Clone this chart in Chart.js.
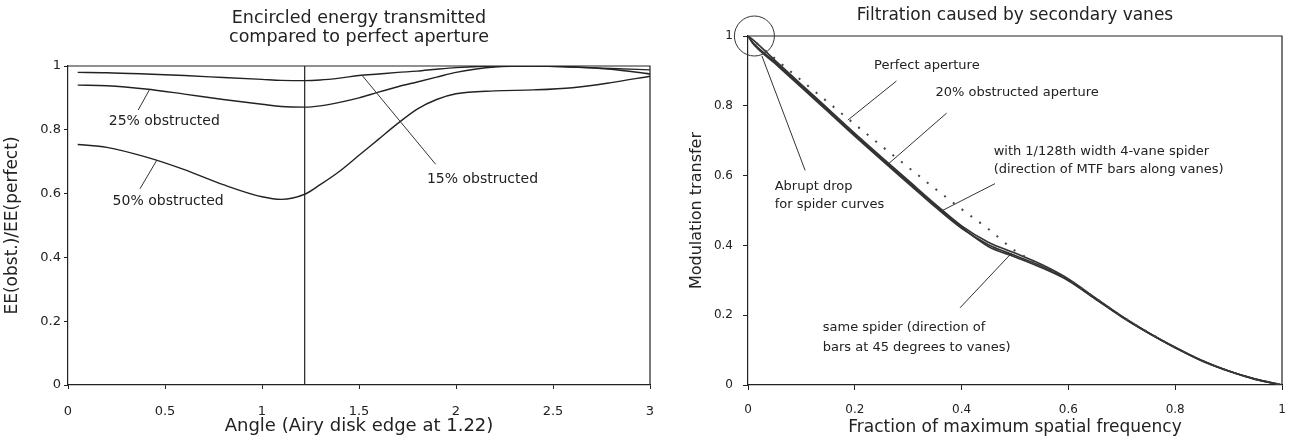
<!DOCTYPE html>
<html lang="en">
<head>
<meta charset="UTF-8">
<title>Encircled energy and MTF with secondary vanes</title>
<script src="https://cdn.jsdelivr.net/npm/chart.js"></script>
<style>
  body { margin: 0; background: #fff; }
  .box { position: absolute; top: 0; height: 442px; }
  #left { left: 0; width: 660px; }
  #right { left: 650px; width: 644px; }
</style>
</head>
<body>
<div class="box" id="left"><canvas id="eeChart"></canvas></div>
<div class="box" id="right"><canvas id="mtfChart"></canvas></div>
<script>
// ---- left panel: encircled energy ratio vs angle ----
const angle   = [0.05, 0.2, 0.4, 0.6, 0.8, 1.0, 1.1, 1.22, 1.3, 1.4, 1.5, 1.6, 1.7, 1.8, 1.9, 2.0, 2.2, 2.4, 2.6, 2.8, 3.0];
const obst15  = [0.98, 0.979, 0.975, 0.97, 0.964, 0.958, 0.955, 0.954, 0.956, 0.962, 0.97, 0.975, 0.98, 0.984, 0.99, 0.995, 1.0, 1.0, 0.997, 0.992, 0.988];
const obst25  = [0.94, 0.938, 0.928, 0.912, 0.895, 0.88, 0.873, 0.871, 0.875, 0.886, 0.9, 0.918, 0.935, 0.95, 0.965, 0.98, 0.997, 1.0, 0.997, 0.99, 0.975];
const obst50  = [0.754, 0.745, 0.715, 0.675, 0.628, 0.59, 0.582, 0.598, 0.628, 0.67, 0.72, 0.77, 0.82, 0.865, 0.895, 0.913, 0.922, 0.925, 0.932, 0.948, 0.968];
const airyEdge = 1.22;
const eeTicks = { xMax: 3, xStep: 0.5, yMax: 1, yStep: 0.2 };

// ---- right panel: MTF ----
const freq        = [0, 0.01, 0.05, 0.1, 0.15, 0.2, 0.25, 0.3, 0.35, 0.4, 0.45, 0.5, 0.55, 0.6, 0.65, 0.7, 0.75, 0.8, 0.85, 0.9, 0.95, 1.0];
const perfect     = [1, 0.987, 0.936, 0.873, 0.81, 0.747, 0.685, 0.624, 0.563, 0.504, 0.447, 0.385, 0.343, 0.302, 0.25, 0.197, 0.15, 0.108, 0.07, 0.04, 0.017, 0];
const obst20      = [1, 0.988, 0.931, 0.861, 0.791, 0.721, 0.653, 0.586, 0.519, 0.456, 0.409, 0.378, 0.345, 0.304, 0.25, 0.197, 0.15, 0.108, 0.07, 0.04, 0.017, 0];
const spiderAlong = [1, 0.977, 0.922, 0.853, 0.783, 0.713, 0.645, 0.578, 0.511, 0.449, 0.402, 0.371, 0.34, 0.301, 0.248, 0.196, 0.149, 0.107, 0.07, 0.04, 0.017, 0];
const spider45    = [1, 0.98, 0.926, 0.857, 0.787, 0.717, 0.649, 0.582, 0.515, 0.452, 0.397, 0.367, 0.336, 0.299, 0.247, 0.195, 0.149, 0.107, 0.069, 0.04, 0.016, 0];
const mtfTicks = { xMax: 1, xStep: 0.2, yMax: 1, yStep: 0.2 };

const FONT = 'DejaVu Sans';
const INK = '#222';

const pts = (xs, ys) => xs.map((x, i) => ({ x: x, y: ys[i] }));

// labels and leader lines, in data units
const eeNotes = {
  title: ['Encircled energy transmitted', 'compared to perfect aperture'],
  titleSize: 17.5,
  titleY: [-48, -29],
  textSize: 14,
  texts: [
    { t: '25% obstructed', x: 0.21, y: 0.826 },
    { t: '50% obstructed', x: 0.23, y: 0.576 },
    { t: '15% obstructed', x: 1.85, y: 0.645 }
  ],
  lines: [
    [0.419, 0.925, 0.362, 0.862],
    [0.457, 0.704, 0.371, 0.615],
    [1.514, 0.972, 1.895, 0.692]
  ]
};
const mtfNotes = {
  title: ['Filtration caused by secondary vanes'],
  titleSize: 17,
  titleY: [-20],
  textSize: 13,
  texts: [
    { t: 'Perfect aperture', x: 0.236, y: 0.914 },
    { t: '20% obstructed aperture', x: 0.351, y: 0.838 },
    { t: 'with 1/128th width 4-vane spider', x: 0.46, y: 0.67 },
    { t: '(direction of MTF bars along vanes)', x: 0.46, y: 0.617 },
    { t: 'Abrupt drop', x: 0.05, y: 0.569 },
    { t: 'for spider curves', x: 0.05, y: 0.516 },
    { t: 'same spider (direction of', x: 0.14, y: 0.164 },
    { t: 'bars at 45 degrees to vanes)', x: 0.14, y: 0.107 }
  ],
  lines: [
    [0.278, 0.871, 0.187, 0.759],
    [0.372, 0.779, 0.261, 0.631],
    [0.4625, 0.577, 0.364, 0.5],
    [0.107, 0.615, 0.026, 0.943],
    [0.397, 0.221, 0.493, 0.377]
  ],
  circle: { x: 0.012, y: 1.0, r: 20 }
};

const tickText = v => String(Math.round(v * 100) / 100);

function notesPlugin(notes) {
  return {
    id: 'notes',
    afterDatasetsDraw(chart) {
      const { ctx, chartArea: a, scales: { x, y } } = chart;
      ctx.save();
      // box around the plot
      ctx.strokeStyle = INK;
      ctx.lineWidth = 1.2;
      ctx.beginPath();
      ctx.moveTo(a.left, a.top);
      ctx.lineTo(a.right, a.top);
      ctx.lineTo(a.right, a.bottom);
      ctx.stroke();

      ctx.fillStyle = INK;
      ctx.textAlign = 'center';
      ctx.textBaseline = 'middle';
      ctx.font = notes.titleSize + 'px "' + FONT + '"';
      const cx = (a.left + a.right) / 2;
      notes.title.forEach((t, i) => ctx.fillText(t, cx, a.top + notes.titleY[i]));

      ctx.textAlign = 'left';
      ctx.font = notes.textSize + 'px "' + FONT + '"';
      notes.texts.forEach(n => ctx.fillText(n.t, x.getPixelForValue(n.x), y.getPixelForValue(n.y)));

      ctx.lineWidth = 1;
      ctx.strokeStyle = '#333';
      notes.lines.forEach(l => {
        ctx.beginPath();
        ctx.moveTo(x.getPixelForValue(l[0]), y.getPixelForValue(l[1]));
        ctx.lineTo(x.getPixelForValue(l[2]), y.getPixelForValue(l[3]));
        ctx.stroke();
      });
      if (notes.circle) {
        const c = notes.circle;
        ctx.beginPath();
        ctx.arc(x.getPixelForValue(c.x), y.getPixelForValue(c.y), c.r, 0, Math.PI * 2);
        ctx.stroke();
      }
      ctx.restore();
    }
  };
}

function axes(t, o) {
  return {
    x: {
      type: 'linear', min: 0, max: t.xMax,
      // fixed size, and no extra room for the end labels
      afterFit: s => { s.height = o.xh; s.paddingLeft = 0; s.paddingRight = 0; },
      ticks: { stepSize: t.xStep, color: INK, padding: o.xpad, font: { family: FONT, size: o.tick }, callback: tickText },
      grid: { drawOnChartArea: false, tickLength: o.tl, color: INK },
      border: { color: INK, width: 1.2 },
      title: { display: true, text: o.xTitle, color: INK, font: { family: FONT, size: o.xts }, padding: { top: 0, bottom: o.xtp } }
    },
    y: {
      min: 0, max: t.yMax,
      afterFit: s => { s.width = o.yw; },
      ticks: { stepSize: t.yStep, color: INK, padding: o.ypad, font: { family: FONT, size: o.tick }, callback: tickText },
      grid: { drawOnChartArea: false, tickLength: o.tl, color: INK },
      border: { color: INK, width: 1.2 },
      title: { display: true, text: o.yTitle, color: INK, font: { family: FONT, size: o.yts }, padding: { top: o.ytp, bottom: 0 } }
    }
  };
}

const lineStyle = { borderColor: INK, borderWidth: 1.4, pointRadius: 0, fill: false, cubicInterpolationMode: 'monotone' };

new Chart(document.getElementById('eeChart'), {
  type: 'line',
  data: {
    datasets: [
      { label: '15% obstructed', data: pts(angle, obst15), ...lineStyle },
      { label: '25% obstructed', data: pts(angle, obst25), ...lineStyle },
      { label: '50% obstructed', data: pts(angle, obst50), ...lineStyle },
      { label: 'Airy disk edge', data: [{ x: airyEdge, y: 0 }, { x: airyEdge, y: 1 }], ...lineStyle, borderWidth: 1.2 }
    ]
  },
  options: {
    responsive: true, maintainAspectRatio: false, animation: false, devicePixelRatio: 1,
    layout: { padding: { left: 0, top: 66, right: 10, bottom: 0 } },
    plugins: { legend: { display: false }, tooltip: { enabled: false } },
    scales: axes(eeTicks, { xh: 57, yw: 68, tl: 4, xpad: 15, ypad: 3, tick: 13,
      xTitle: 'Angle (Airy disk edge at 1.22)', xts: 18, xtp: 5,
      yTitle: 'EE(obst.)/EE(perfect)', yts: 17, ytp: 2 })
  },
  plugins: [notesPlugin(eeNotes)]
});

new Chart(document.getElementById('mtfChart'), {
  type: 'line',
  data: {
    datasets: [
      { label: 'Perfect aperture', data: pts(freq, perfect), ...lineStyle, borderColor: '#444', borderWidth: 2, borderDash: [2, 9] },
      { label: '20% obstructed aperture', data: pts(freq, obst20), ...lineStyle, borderColor: '#333', borderWidth: 1.7 },
      { label: 'spider, bars along vanes', data: pts(freq, spiderAlong), ...lineStyle, borderColor: '#333', borderWidth: 1.7 },
      { label: 'spider, bars at 45 degrees', data: pts(freq, spider45), ...lineStyle, borderColor: '#333', borderWidth: 1.7 }
    ]
  },
  options: {
    responsive: true, maintainAspectRatio: false, animation: false, devicePixelRatio: 1,
    layout: { padding: { left: 0, top: 36, right: 12, bottom: 0 } },
    plugins: { legend: { display: false }, tooltip: { enabled: false } },
    scales: axes(mtfTicks, { xh: 57, yw: 98, tl: 5, xpad: 13, ypad: 10, tick: 12,
      xTitle: 'Fraction of maximum spatial frequency', xts: 17, xtp: 4,
      yTitle: 'Modulation transfer', yts: 16, ytp: 37 })
  },
  plugins: [notesPlugin(mtfNotes)]
});
</script>
</body>
</html>
